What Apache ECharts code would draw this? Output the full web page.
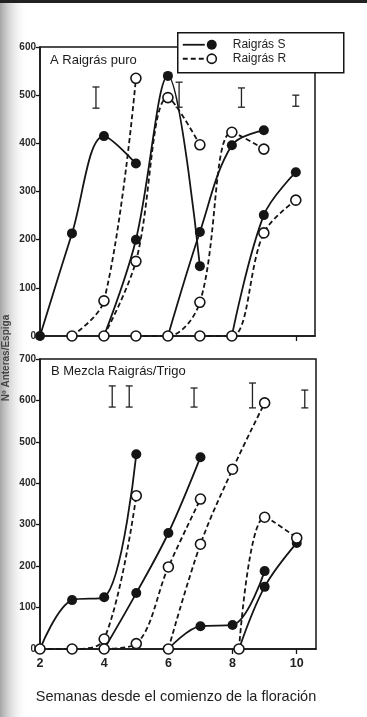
<!DOCTYPE html>
<html>
<head>
<meta charset="utf-8">
<script src="https://cdn.jsdelivr.net/npm/echarts@6/dist/echarts.min.js"></script>
<style>
  html, body { margin: 0; padding: 0; background: #fff; }
  #chart { width: 367px; height: 717px; }
</style>
</head>
<body>
<div id="chart"></div>
<script>
// --- Data (weeks since flowering start, anthers per spike) ---

const weekTicks = [2, 4, 6, 8, 10];

// A: Raigrás puro, one curve per cohort
const aS1 = [[2, 0], [3, 213], [4, 415], [5, 358]];
const aS2 = [[4, 0], [5, 200], [6, 540], [7, 145]];
const aS3 = [[6, 0], [7, 216], [8, 396], [9, 427]];
const aS4 = [[8, 0], [9, 251], [10, 340]];
const aR1 = [[3, 0], [4, 73], [5, 535]];
const aR2 = [[4, 0], [5, 155], [6, 495], [7, 397]];
const aR3 = [[5, 0], [6, 0], [7, 70], [8, 423], [9, 388]];
const aR4 = [[7, 0], [8, 0], [9, 214], [10, 282]];
const aBars = [[3.75, 473, 517], [6.35, 475, 527], [8.3, 475, 515], [10, 477, 500]];

// B: Mezcla Raigrás/Trigo
const bS1 = [[2, 0], [3, 118], [4, 125], [5, 470]];
const bS2 = [[4, 0], [5, 135], [6, 280], [7, 463]];
const bS3 = [[6, 0], [7, 55], [8, 58], [9, 188]];
const bS4 = [[8.2, 0], [9, 150], [10, 256]];
const bR1 = [[2, 0], [3, 0], [4, 24], [5, 370]];
const bR2 = [[4, 0], [5, 13], [6, 198], [7, 362]];
const bR3 = [[6, 0], [7, 253], [8, 434], [9, 594]];
const bR4 = [[8.2, 0], [9, 318], [10, 268]];
const bBars = [[4.25, 584, 635], [4.78, 584, 635], [6.8, 584, 630], [8.62, 582, 642], [10.25, 582, 625]];

// --- Helpers ---

const INK = '#151515';
const FONT = "'Liberation Sans', Arial, sans-serif";

function curve(data, kind, g) {
    const solid = kind === 'S';
    return {
        type: 'line', xAxisIndex: g, yAxisIndex: g, data,
        smooth: 0.35, symbol: 'circle', symbolSize: 10,
        lineStyle: { color: INK, width: 1.8, type: solid ? 'solid' : [5, 3] },
        itemStyle: { color: solid ? INK : '#fff', borderColor: INK, borderWidth: solid ? 0 : 1.6 },
        z: solid ? 3 : 4, animation: false, clip: false,
    };
}

function lsdBars(data, g) {
    return {
        type: 'custom', xAxisIndex: g, yAxisIndex: g, data, z: 5,
        encode: { x: 0, y: [1, 2] }, animation: false,
        renderItem(params, api) {
            const lo = api.coord([api.value(0), api.value(1)]);
            const hi = api.coord([api.value(0), api.value(2)]);
            const w = 3.5;
            const st = { stroke: '#222', lineWidth: 1.3 };
            return {
                type: 'group', children: [
                    { type: 'line', shape: { x1: lo[0], y1: lo[1], x2: hi[0], y2: hi[1] }, style: st },
                    { type: 'line', shape: { x1: lo[0] - w, y1: lo[1], x2: lo[0] + w, y2: lo[1] }, style: st },
                    { type: 'line', shape: { x1: hi[0] - w, y1: hi[1], x2: hi[0] + w, y2: hi[1] }, style: st },
                ],
            };
        },
    };
}

function xAxisFor(g, labels) {
    return {
        type: 'value', gridIndex: g, min: 2, max: 10.6,
        axisLine: { lineStyle: { color: INK, width: 1.5 } },
        axisTick: { customValues: weekTicks, length: 5, lineStyle: { color: INK, width: 1.3 } },
        axisLabel: {
            show: labels, customValues: weekTicks, margin: 8,
            color: '#222', fontSize: 12.5, fontFamily: FONT, fontWeight: 'bold',
        },
        splitLine: { show: false },
    };
}

function yAxisFor(g, max) {
    return {
        type: 'value', gridIndex: g, min: 0, max, interval: 100,
        axisLine: { show: true, lineStyle: { color: INK, width: 1.5 } },
        axisTick: { show: true, length: 4, lineStyle: { color: INK, width: 1.3 } },
        axisLabel: { color: '#2a2a2a', fontSize: 10, fontWeight: 'bold', fontFamily: FONT, margin: 4 },
        splitLine: { show: false },
    };
}

// --- Chart ---

const chart = echarts.init(document.getElementById('chart'), null, { renderer: 'canvas' });

const gridStyle = { show: true, borderColor: INK, borderWidth: 1.5, backgroundColor: 'transparent' };

chart.setOption({
    backgroundColor: '#fff',
    animation: false,
    grid: [
        { left: 40, top: 47, width: 275, height: 289, ...gridStyle },
        { left: 40, top: 359, width: 276, height: 290, ...gridStyle },
    ],
    xAxis: [xAxisFor(0, false), xAxisFor(1, true)],
    yAxis: [yAxisFor(0, 600), yAxisFor(1, 700)],
    series: [
        ...[aS1, aS2, aS3, aS4].map(d => curve(d, 'S', 0)),
        ...[aR1, aR2, aR3, aR4].map(d => curve(d, 'R', 0)),
        lsdBars(aBars, 0),
        ...[bS1, bS2, bS3, bS4].map(d => curve(d, 'S', 1)),
        ...[bR1, bR2, bR3, bR4].map(d => curve(d, 'R', 1)),
        lsdBars(bBars, 1),
    ],
    graphic: [
        // scanned-page shading on the left edge
        {
            type: 'rect', left: 0, top: 0, z: -10, silent: true,
            shape: { width: 28, height: 717 },
            style: {
                fill: new echarts.graphic.LinearGradient(0, 0, 1, 0, [
                    { offset: 0, color: '#a5a5a5' }, { offset: 1, color: 'rgba(255,255,255,0)' },
                ]),
            },
        },
        { type: 'rect', left: 0, top: 0, z: 10, shape: { width: 367, height: 3 }, style: { fill: '#222' } },
        {
            type: 'text', left: 50, top: 54, z: 10,
            style: { text: 'A Raigrás puro', font: `13px ${FONT}`, fill: '#1a1a1a' },
        },
        {
            type: 'text', left: 51, top: 365, z: 10,
            style: { text: 'B Mezcla Raigrás/Trigo', font: `13px ${FONT}`, fill: '#1a1a1a' },
        },
        {
            type: 'text', x: 176, y: 697, z: 10,
            style: {
                text: 'Semanas desde el comienzo de la floración', font: `14.5px ${FONT}`,
                fill: '#222', align: 'center', verticalAlign: 'middle',
            },
        },
        {
            type: 'text', x: 6, y: 358, rotation: Math.PI / 2, z: 10,
            style: {
                text: 'Nº Anteras/Espiga', font: `bold 10px ${FONT}`,
                fill: '#444', align: 'center', verticalAlign: 'middle',
            },
        },
        // legend box
        {
            type: 'group', left: 177, top: 32, z: 20,
            children: [
                { type: 'rect', shape: { x: 0, y: 0, width: 166, height: 40 }, style: { fill: '#fff', stroke: INK, lineWidth: 1.5 } },
                { type: 'line', shape: { x1: 5, y1: 12, x2: 27, y2: 12 }, style: { stroke: INK, lineWidth: 1.8 } },
                { type: 'circle', shape: { cx: 34, cy: 12, r: 5 }, style: { fill: INK } },
                { type: 'text', style: { x: 55, y: 12, text: 'Raigrás S', font: `12px ${FONT}`, fill: '#222', verticalAlign: 'middle' } },
                { type: 'line', shape: { x1: 5, y1: 26, x2: 27, y2: 26 }, style: { stroke: INK, lineWidth: 1.8, lineDash: [5, 3] } },
                { type: 'circle', shape: { cx: 34, cy: 26, r: 4.6 }, style: { fill: '#fff', stroke: INK, lineWidth: 1.6 } },
                { type: 'text', style: { x: 55, y: 26, text: 'Raigrás R', font: `12px ${FONT}`, fill: '#222', verticalAlign: 'middle' } },
            ],
        },
    ],
});
</script>
</body>
</html>
